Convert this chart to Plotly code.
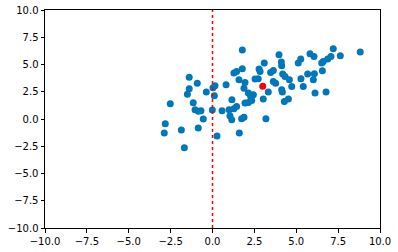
import plotly.graph_objects as go

x_vals = [-1.39, -0.91, -1.39, -1.50, -0.37, 0.03, 0.15, 0.11, 0.81, 1.28, 1.16, -2.52, -1.15,
          -1.04, -0.84, -0.69, -0.01, 0.57, 0.99, 1.04, -0.55, -2.82, -2.88, -1.86, -0.85, 0.27,
          -1.68, 1.15, 1.78, 3.97, 5.82, 5.27, 5.12, 4.11, 4.13, 3.09, 2.78, 2.84, 1.78, 1.44,
          3.63, 3.47, 4.19, 4.33, 4.59, 4.73, 5.68, 5.28, 5.42, 2.54, 2.73, 1.58, 1.94, 1.88,
          2.14, 2.28, 2.44, 3.63, 3.77, 3.33, 4.13, 4.17, 3.03, 4.29, 4.53, 1.94, 2.14, 2.34,
          1.44, 1.28, 1.88, 1.74, 3.19, 1.60, 7.21, 8.82, 6.06, 7.63, 7.07, 6.88, 6.61, 6.52,
          6.08, 6.56, 6.02, 6.12, 6.78]
y_vals = [3.84, 3.29, 2.77, 2.28, 2.47, 2.86, 3.05, 2.13, 3.14, 4.21, 1.76, 1.39, 1.49,
          0.84, 0.72, 0.75, 0.82, 0.75, 0.84, 0.29, -0.01, -0.44, -1.29, -1.02, -0.83, -1.57,
          -2.64, -0.07, 6.32, 5.89, 5.98, 5.50, 5.13, 5.22, 4.88, 5.13, 4.58, 4.36, 4.61, 4.36,
          4.45, 4.27, 4.12, 3.90, 3.60, 2.98, 4.12, 3.69, 2.98, 3.66, 3.69, 3.60, 3.35, 2.83,
          2.38, 2.06, 2.22, 3.44, 3.29, 2.47, 2.68, 2.47, 1.83, 1.61, 1.83, 1.46, 1.51, 1.70,
          1.15, 0.94, 0.17, 0.02, 0.02, -1.29, 6.44, 6.14, 5.73, 5.80, 5.73, 5.50, 5.28, 5.13,
          4.15, 4.42, 3.60, 2.38, 2.47]

center_x = [3.0]
center_y = [3.0]

vline_x = [0, 0]
vline_y = [-10, 10]

tick_vals = [-10, -7.5, -5, -2.5, 0, 2.5, 5, 7.5, 10]

fig = go.Figure()
fig.add_trace(go.Scatter(x=x_vals, y=y_vals, mode="markers",
                         marker=dict(color="#0077bb", size=7, line=dict(width=0))))
fig.add_trace(go.Scatter(x=vline_x, y=vline_y, mode="lines",
                         line=dict(color="red", width=1.5, dash="dot")))
fig.add_trace(go.Scatter(x=center_x, y=center_y, mode="markers",
                         marker=dict(color="red", size=7, line=dict(width=0))))

axis_common = dict(range=[-10, 10], tickvals=tick_vals, tickformat=".1f", automargin=False,
                   showgrid=False, zeroline=False, showline=True, linecolor="black",
                   linewidth=1, mirror=True, ticks="outside", ticklen=3.5, tickwidth=1,
                   tickcolor="black", tickfont=dict(family="DejaVu Sans", size=10, color="black"))

fig.update_xaxes(**axis_common)
fig.update_yaxes(**axis_common)

fig.update_layout(width=398, height=252, margin=dict(l=45, r=18, t=10, b=24, pad=0),
                  showlegend=False, plot_bgcolor="white", paper_bgcolor="white")

fig.write_html("out.html")
